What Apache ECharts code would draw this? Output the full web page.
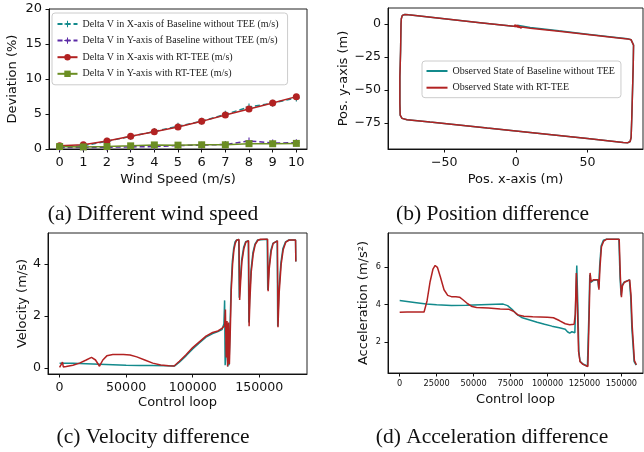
<!DOCTYPE html>
<html>
<head>
<meta charset="utf-8">
<script src="https://cdn.jsdelivr.net/npm/echarts@6/dist/echarts.min.js"></script>
<style>html,body{margin:0;padding:0;background:#fff}#c{width:644px;height:452px}</style>
</head>
<body>
<div id="c"></div>
<script>
// ---------- (a) Different wind speed ----------
const windSpeeds = [0,1,2,3,4,5,6,7,8,9,10];
const baseX = [0.3,0.45,1.1,1.8,2.5,3.25,3.95,4.95,6.0,6.55,7.3];
const baseY = [0.2,0.2,0.25,0.3,0.35,0.5,0.55,0.65,1.15,0.85,0.9];
const teeX  = [0.48,0.62,1.14,1.81,2.48,3.14,3.95,4.86,5.71,6.57,7.48];
const teeY  = [0.35,0.3,0.35,0.45,0.58,0.55,0.6,0.6,0.76,0.75,0.8];
const windTicksX = [0,1,2,3,4,5,6,7,8,9,10];
const windTicksY = [0,5,10,15,20];
const legendA = ['Delta V in X-axis of Baseline without TEE (m/s)','Delta V in Y-axis of Baseline without TEE (m/s)','Delta V in X-axis with RT-TEE (m/s)','Delta V in Y-axis with RT-TEE (m/s)'];

// ---------- (b) Position difference ----------
const posBaseline = [[1,-1],[5,-1.7],[10,-2.6],[30,-5.2],[50,-7.7],[70,-10.2],[78,-11.2],[80.5,-12],[81.8,-13.5],[82.2,-16],[82,-30],[81.5,-50],[81,-70],[80.5,-86],[79.8,-89],[78,-90],[75,-89.8],[50,-86.8],[20,-83.3],[0,-81],[-20,-78.8],[-40,-76.5],[-60,-74.3],[-76,-72.5],[-79.5,-71.5],[-80.8,-69],[-81,-60],[-81,-40],[-80.5,-20],[-80.2,0],[-80,4],[-79.3,6.5],[-77.5,7.2],[-75,6.9],[-50,4],[-25,1],[0,-2]];
const posTee = [[2,-2.8],[-1,-0.8],[1.5,-1.3],[4,-3.2],[1.5,-2],[10,-3.3],[30,-5.6],[50,-8],[70,-10.4],[78,-11.3],[80.5,-12],[81.8,-13.5],[82.2,-16],[82,-30],[81.5,-50],[81,-70],[80.5,-86],[79.8,-89],[78,-90],[75,-89.8],[50,-86.8],[20,-83.3],[0,-81],[-20,-78.8],[-40,-76.5],[-60,-74.3],[-76,-72.5],[-79.5,-71.5],[-80.8,-69],[-81,-60],[-81,-40],[-80.5,-20],[-80.2,0],[-80,4],[-79.3,6.5],[-77.5,7.2],[-75,6.9],[-50,4],[-25,1],[0,-2],[2,-2.3]];
const posTicksX = [-50,0,50];
const posTicksY = [0,-25,-50,-75];
const legendB = ['Observed State of Baseline without TEE','Observed State with RT-TEE'];

// ---------- (c) Velocity difference ----------
const velBaseline = [[0,0.17],[10000,0.17],[20000,0.16],[30000,0.14],[40000,0.12],[50000,0.1],[60000,0.09],[70000,0.09],[80000,0.08],[86500,0.07],[90000,0.22],[95000,0.46],[100000,0.73],[105000,0.96],[110000,1.18],[115000,1.32],[119000,1.4],[122000,1.47],[123500,1.7],[124000,2.6],[124400,0.1],[125000,0.05],[125800,1.3],[126300,0.05],[126800,1.2],[127300,0.1],[128000,1.4],[128800,3.0],[129800,4.1],[130800,4.6],[131800,4.85],[133000,4.93],[134600,4.95],[135000,2.7],[135800,3.4],[136800,4.15],[138300,4.65],[139800,4.86],[141800,4.9],[142200,1.75],[142800,2.7],[143800,3.75],[145300,4.45],[146800,4.77],[148800,4.93],[156000,4.96],[156400,3.0],[157300,3.85],[158800,4.55],[160300,4.8],[163500,4.9],[163900,1.6],[164800,3.0],[166300,4.05],[167800,4.6],[169800,4.86],[172300,4.93],[177300,4.93],[177500,4.1]];
const velTee = [[0,0.02],[1500,0.05],[2200,0.22],[2800,0.03],[5000,0.05],[10000,0.1],[15000,0.18],[20000,0.3],[24000,0.4],[27000,0.3],[30000,0.06],[32500,0.3],[35500,0.46],[40000,0.51],[48000,0.51],[53000,0.49],[58000,0.42],[64000,0.3],[70000,0.18],[76000,0.11],[82000,0.08],[86000,0.07],[90000,0.25],[95000,0.5],[100000,0.78],[105000,1.0],[110000,1.22],[115000,1.36],[119000,1.42],[122000,1.52],[124000,1.62],[124600,2.25],[125200,0.4],[125800,1.8],[126300,0.05],[127000,1.75],[127600,0.15],[128300,1.5],[129000,3.0],[130000,4.0],[131000,4.55],[132000,4.8],[133000,4.92],[134800,4.95],[135300,2.62],[136000,3.3],[137000,4.1],[138500,4.6],[140000,4.85],[142000,4.9],[142400,1.6],[143000,2.6],[144000,3.7],[145500,4.4],[147000,4.75],[149000,4.92],[151000,4.96],[156300,4.96],[156700,2.95],[157500,3.8],[159000,4.5],[160500,4.8],[163700,4.9],[164100,1.56],[165000,2.9],[166500,4.0],[168000,4.55],[170000,4.85],[172500,4.93],[177300,4.93],[177500,4.1]];
const velTicksX = [0,50000,100000,150000];
const velTicksY = [0,2,4];

// ---------- (d) Acceleration difference ----------
const accBaseline = [[0,4.22],[10000,4.12],[18000,4.04],[25000,4.0],[35000,3.96],[45000,3.97],[55000,4.0],[65000,4.02],[70000,4.03],[73000,3.95],[76000,3.75],[79000,3.5],[83000,3.3],[88000,3.18],[93000,3.06],[98000,2.95],[103000,2.85],[108000,2.76],[112000,2.68],[113500,2.55],[115000,2.48],[116500,2.55],[117500,2.65],[118500,2.5],[119200,4.5],[119800,6.1],[120500,4.0],[121200,1.5],[122000,0.97],[124000,0.82],[127000,0.7],[128000,3.5],[128600,5.6],[129300,5.2],[131000,5.3],[134000,5.33],[134600,4.9],[135300,6.1],[136300,7.15],[137800,7.45],[139600,7.5],[148300,7.5],[149100,5.4],[149800,4.5],[150500,5.05],[151800,5.2],[155400,5.33],[156300,4.4],[157100,2.7],[157800,1.9],[158600,0.95],[160000,0.76]];
const accTee = [[0,3.59],[5000,3.61],[10000,3.61],[16500,3.61],[18500,4.2],[20500,5.2],[22500,5.9],[24000,6.1],[25500,6.0],[27500,5.5],[30000,4.8],[32500,4.5],[35000,4.43],[38000,4.42],[40500,4.4],[43000,4.25],[46000,4.05],[49000,3.9],[52000,3.85],[60000,3.82],[68000,3.77],[74000,3.75],[77000,3.65],[80000,3.45],[84000,3.38],[90000,3.35],[100000,3.33],[104000,3.3],[108000,3.15],[112000,2.98],[115000,2.93],[118000,2.95],[118800,3.5],[119500,5.7],[120200,4.0],[121000,1.5],[122000,0.95],[124000,0.8],[127300,0.69],[128200,3.5],[128800,5.7],[129500,5.25],[131000,5.33],[134200,5.33],[134800,4.8],[135500,6.0],[136500,7.1],[138000,7.4],[139800,7.5],[148500,7.5],[149300,5.5],[150000,4.4],[150700,5.0],[152000,5.2],[155600,5.33],[156500,4.5],[157300,2.85],[158000,2.0],[158800,1.0],[160100,0.78]];
const accTicksX = [0,25000,50000,75000,100000,125000,150000];
const accTicksY = [2,4,6];

const captions = ['(a) Different wind speed','(b) Position difference','(c) Velocity difference','(d) Acceleration difference'];

const TEAL = '#138a8c', PURPLE = '#5b2aa6', RED = '#b22222', GREEN = '#6b8e23';
const SANS = 'DejaVu Sans', SERIF = 'Liberation Serif';
const plus = 'path://M-0.8,-5H0.8V-0.8H5V0.8H0.8V5H-0.8V0.8H-5V-0.8H-0.8Z';
const minus = v => String(v).replace('-', '\u2212');

function xAx(gi, min, max, ticks, fs, name, gap) {
  return {type:'value', gridIndex:gi, min, max, name, nameLocation:'middle', nameGap:gap,
    nameTextStyle:{fontFamily:SANS, fontSize:13, color:'#111'},
    axisLine:{show:true, onZero:false, lineStyle:{color:'#111', width:1}},
    axisTick:{show:true, length:3.5, customValues:ticks, lineStyle:{color:'#111'}},
    axisLabel:{customValues:ticks, fontFamily:SANS, fontSize:fs, color:'#111', margin:7, formatter:minus},
    splitLine:{show:false}};
}
function yAx(gi, min, max, ticks, fs, name, gap) {
  return {type:'value', gridIndex:gi, min, max, name, nameLocation:'middle', nameGap:gap, nameRotate:90,
    nameTextStyle:{fontFamily:SANS, fontSize:13, color:'#111'},
    axisLine:{show:true, onZero:false, lineStyle:{color:'#111', width:1}},
    axisTick:{show:true, length:3.5, customValues:ticks, lineStyle:{color:'#111'}},
    axisLabel:{customValues:ticks, fontFamily:SANS, fontSize:fs, color:'#111', margin:7, formatter:minus},
    splitLine:{show:false}};
}
const gridBase = {show:true, borderColor:'#222', borderWidth:1, backgroundColor:'transparent', outerBoundsMode:'none', containLabel:false};

const option = {
  animation:false,
  backgroundColor:'#fff',
  grid:[
    Object.assign({left:49, top:9, width:258, height:140}, gridBase),
    Object.assign({left:388, top:8, width:255, height:141}, gridBase),
    Object.assign({left:48, top:233, width:259, height:141}, gridBase),
    Object.assign({left:388, top:233, width:255, height:140}, gridBase)
  ],
  xAxis:[
    xAx(0, -0.45, 10.45, windTicksX, 13, 'Wind Speed (m/s)', 24),
    xAx(1, -89.3, 88.8, posTicksX, 12.6, 'Pos. x-axis (m)', 24),
    xAx(2, -8700, 185900, velTicksX, 12.6, 'Control loop', 22),
    xAx(3, -7900, 164600, accTicksX, 8.2, 'Control loop', 20)
  ],
  yAxis:[
    yAx(0, 0, 20, windTicksY, 13, 'Deviation (%)', 30),
    yAx(1, -94.7, 12.1, posTicksY, 12.6, 'Pos. y-axis (m)', 38),
    yAx(2, -0.24, 5.2, velTicksY, 12.6, 'Velocity (m/s)', 19),
    yAx(3, 0.34, 7.84, accTicksY, 8.2, 'Acceleration (m/s\u00b2)', 18)
  ],
  legend:[
    {data:legendA, orient:'vertical', left:52, top:13, itemWidth:20, itemHeight:8, itemGap:6.6,
     padding:[6,9,6,4.5], backgroundColor:'rgba(255,255,255,0.85)', borderColor:'#ccc', borderWidth:1, borderRadius:3,
     textStyle:{fontFamily:SERIF, fontSize:10, color:'#222'}},
    {data:legendB, orient:'vertical', left:422, top:61, itemWidth:21, itemHeight:8, itemGap:6.7,
     padding:[5,6,5,3.5], backgroundColor:'rgba(255,255,255,0.85)', borderColor:'#ccc', borderWidth:1, borderRadius:3,
     itemStyle:{opacity:0},
     textStyle:{fontFamily:SERIF, fontSize:10, color:'#222'}}
  ],
  series:[
    {name:legendA[0], type:'line', xAxisIndex:0, yAxisIndex:0, data:windSpeeds.map((w,i)=>[w, baseX[i]]),
     symbol:plus, symbolSize:7, lineStyle:{color:TEAL, width:1.5, type:[5,3]}, itemStyle:{color:TEAL}},
    {name:legendA[1], type:'line', xAxisIndex:0, yAxisIndex:0, data:windSpeeds.map((w,i)=>[w, baseY[i]]),
     symbol:plus, symbolSize:7, lineStyle:{color:PURPLE, width:1.5, type:[5,3]}, itemStyle:{color:PURPLE}},
    {name:legendA[2], type:'line', xAxisIndex:0, yAxisIndex:0, data:windSpeeds.map((w,i)=>[w, teeX[i]]),
     symbol:'circle', symbolSize:7, lineStyle:{color:RED, width:1.5}, itemStyle:{color:RED}},
    {name:legendA[3], type:'line', xAxisIndex:0, yAxisIndex:0, data:windSpeeds.map((w,i)=>[w, teeY[i]]),
     symbol:'rect', symbolSize:7, lineStyle:{color:GREEN, width:1.5}, itemStyle:{color:GREEN}},
    {name:legendB[0], type:'line', xAxisIndex:1, yAxisIndex:1, data:posBaseline, symbol:'none',
     lineStyle:{color:TEAL, width:1.5}, itemStyle:{color:TEAL}},
    {name:legendB[1], type:'line', xAxisIndex:1, yAxisIndex:1, data:posTee, symbol:'none',
     lineStyle:{color:RED, width:1.5}, itemStyle:{color:RED}},
    {name:'Velocity baseline', type:'line', xAxisIndex:2, yAxisIndex:2, data:velBaseline, symbol:'none',
     lineStyle:{color:TEAL, width:1.5}},
    {name:'Velocity RT-TEE', type:'line', xAxisIndex:2, yAxisIndex:2, data:velTee, symbol:'none',
     lineStyle:{color:RED, width:1.5}},
    {name:'Acceleration baseline', type:'line', xAxisIndex:3, yAxisIndex:3, data:accBaseline, symbol:'none',
     lineStyle:{color:TEAL, width:1.5}},
    {name:'Acceleration RT-TEE', type:'line', xAxisIndex:3, yAxisIndex:3, data:accTee, symbol:'none',
     lineStyle:{color:RED, width:1.5}}
  ],
  graphic:[
    {type:'text', style:{x:153, y:214.5, text:captions[0], fontFamily:SERIF, fontSize:21.5, fill:'#111', align:'center', verticalAlign:'middle'}},
    {type:'text', style:{x:492.5, y:214.5, text:captions[1], fontFamily:SERIF, fontSize:21.5, fill:'#111', align:'center', verticalAlign:'middle'}},
    {type:'text', style:{x:153, y:437.5, text:captions[2], fontFamily:SERIF, fontSize:21.5, fill:'#111', align:'center', verticalAlign:'middle'}},
    {type:'text', style:{x:492, y:437.5, text:captions[3], fontFamily:SERIF, fontSize:21.5, fill:'#111', align:'center', verticalAlign:'middle'}}
  ]
};
const chart = echarts.init(document.getElementById('c'), null, {renderer:'canvas'});
chart.setOption(option);
</script>
</body>
</html>
